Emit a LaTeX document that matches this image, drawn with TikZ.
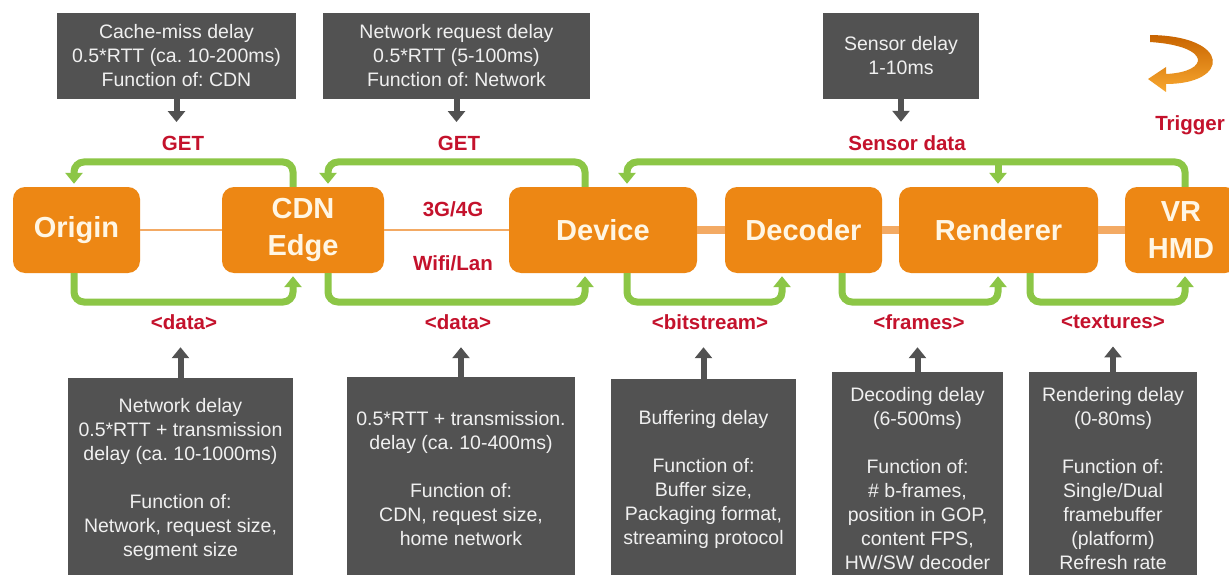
\documentclass[tikz,border=0pt]{standalone}
\usepackage{fontspec}
\setmainfont{Liberation Sans}
\usetikzlibrary{arrows.meta,calc}
\frenchspacing

\definecolor{boxgray}{RGB}{82,82,82}
\definecolor{boxtext}{RGB}{240,240,240}
\definecolor{stageorange}{RGB}{237,135,20}
\definecolor{stagetext}{RGB}{255,246,228}
\definecolor{linkorange}{RGB}{243,170,100}
\definecolor{flowgreen}{RGB}{140,198,70}
\definecolor{labelred}{RGB}{196,18,44}
\definecolor{trigdark}{RGB}{200,100,0}
\definecolor{triglight}{RGB}{248,168,48}

\begin{document}
\begin{tikzpicture}[x=1pt,y=-1pt,
  stage/.style={fill=stageorange, rounded corners=12pt, text=stagetext, align=center,
    inner sep=0pt, minimum height=86pt, font=\fontsize{29}{37}\selectfont\bfseries},
  infobox/.style={fill=boxgray, text=boxtext, align=center, inner sep=0pt,
    font=\fontsize{19.5}{24}\selectfont},
  flowlabel/.style={text=labelred, inner sep=2pt, font=\fontsize{20.5}{24}\selectfont\bfseries},
  flow/.style={draw=flowgreen, line width=7pt, rounded corners=10pt, shorten >=3pt,
    -{Triangle[width=17pt,length=11pt]}},
  cause/.style={draw=boxgray, line width=6pt, -{Triangle[width=17pt,length=11pt]}},
  thinlink/.style={draw=linkorange, line width=1.6pt},
  thicklink/.style={draw=linkorange, line width=8pt},
]
\useasboundingbox (0,0) rectangle (1229,575);
\clip (0,0) rectangle (1229,575);
\fill[white] (0,0) rectangle (1229,575);

% pipeline stages
\node[stage, minimum width=127pt] (origin)   at (76.5,230)  {Origin};
\node[stage, minimum width=162pt] (cdn)      at (303,230)   {CDN\\Edge};
\node[stage, minimum width=188pt] (device)   at (603,230)   {Device};
\node[stage, minimum width=157pt] (decoder)  at (803.5,230) {Decoder};
\node[stage, minimum width=199pt] (renderer) at (998.5,230) {Renderer};
\node[stage, minimum width=112pt] (hmd)      at (1181,230)  {VR\\HMD};

% links between stages
\draw[thinlink]  (origin) -- (cdn);
\draw[thinlink]  (cdn) -- (device);
\draw[thicklink] (device) -- (decoder);
\draw[thicklink] (decoder) -- (renderer);
\draw[thicklink] (renderer) -- (hmd);

% delay descriptions above
\node[infobox, minimum width=239pt, minimum height=86pt] (cachemiss) at (176.5,56)
  {Cache-miss delay\\0.5*RTT (ca. 10-200ms)\\Function of: CDN};
\node[infobox, minimum width=267pt, minimum height=86pt] (netreq) at (456.5,56)
  {Network request delay\\0.5*RTT (5-100ms)\\Function of: Network};
\node[infobox, minimum width=156pt, minimum height=86pt] (sensordelay) at (901,56)
  {Sensor delay\\1-10ms};

% delay descriptions below
\node[infobox, minimum width=225pt, minimum height=202pt] (netdelay) at (180.5,479)
  {Network delay\\0.5*RTT + transmission\\delay (ca. 10-1000ms)\\[24pt]Function of:\\Network, request size,\\segment size};
\node[infobox, minimum width=228pt, minimum height=204pt] (transdelay) at (461,479)
  {0.5*RTT + transmission.\\delay (ca. 10-400ms)\\[24pt]Function of:\\CDN, request size,\\home network};
\node[infobox, minimum width=185pt, minimum height=200pt] (bufdelay) at (703.5,479)
  {Buffering delay\\[24pt]Function of:\\Buffer size,\\Packaging format,\\streaming protocol};
\node[infobox, minimum width=171pt, minimum height=214pt] (decdelay) at (917.5,479)
  {Decoding delay\\(6-500ms)\\[24pt]Function of:\\\# b-frames,\\position in GOP,\\content FPS,\\HW/SW decoder};
\node[infobox, minimum width=168pt, minimum height=214pt] (rendelay) at (1113,479)
  {Rendering delay\\(0-80ms)\\[24pt]Function of:\\Single/Dual\\framebuffer\\(platform)\\Refresh rate};

% message labels
\node[flowlabel] (get1)       at (183,143)  {GET};
\node[flowlabel] (get2)       at (459,143)  {GET};
\node[flowlabel] (sensordata) at (907,143)  {Sensor data};
\node[flowlabel] (triggerlbl) at (1190,125) {Trigger};
\node[flowlabel] (mobile)     at (453,209)  {3G/4G};
\node[flowlabel] (wifi)       at (453,263)  {Wifi/Lan};
\node[flowlabel] (data1)      at (184,322)  {<data>};
\node[flowlabel] (data2)      at (458,322)  {<data>};
\node[flowlabel] (bits)       at (710,322)  {<bitstream>};
\node[flowlabel] (frames)     at (919,322)  {<frames>};
\node[flowlabel] (textures)   at (1113,322) {<textures>};

% lanes of the green flows
\coordinate (toplane) at (0,162);
\coordinate (botlane) at (0,302);
\coordinate (xa) at (74,0);
\coordinate (xb) at (293,0);
\coordinate (xc) at (328,0);
\coordinate (xd) at (585,0);
\coordinate (xe) at (627,0);
\coordinate (xf) at (782,0);
\coordinate (xg) at (842,0);
\coordinate (xh) at (998,0);
\coordinate (xi) at (1030,0);
\coordinate (xj) at (1185,0);

% requests (top)
\draw[flow] (cdn.north -| xb) -- (xb |- toplane) -- (xa |- toplane) -- (origin.north -| xa);
\draw[flow] (device.north -| xd) -- (xd |- toplane) -- (xc |- toplane) -- (cdn.north -| xc);
\draw[flow] (hmd.north -| xj) -- (xj |- toplane) -- (xe |- toplane) -- (device.north -| xe);
\draw[flow] (xh |- toplane) -- (renderer.north -| xh);

% responses (bottom)
\draw[flow] (origin.south -| xa) -- (xa |- botlane) -- (xb |- botlane) -- (cdn.south -| xb);
\draw[flow] (cdn.south -| xc) -- (xc |- botlane) -- (xd |- botlane) -- (device.south -| xd);
\draw[flow] (device.south -| xe) -- (xe |- botlane) -- (xf |- botlane) -- (decoder.south -| xf);
\draw[flow] (decoder.south -| xg) -- (xg |- botlane) -- (xh |- botlane) -- (renderer.south -| xh);
\draw[flow] (renderer.south -| xi) -- (xi |- botlane) -- (xj |- botlane) -- (hmd.south -| xj);

% delay pointers
\draw[cause, shorten >=11.5pt] (cachemiss.south) -- (cachemiss.south |- get1.north);
\draw[cause, shorten >=11.5pt] (netreq.south) -- (netreq.south |- get2.north);
\draw[cause, shorten >=11.5pt] (sensordelay.south) -- (sensordelay.south |- sensordata.north);
\draw[cause, shorten >=15.5pt] (netdelay.north) -- (netdelay.north |- data1.south);
\draw[cause, shorten >=15.5pt] (transdelay.north) -- (transdelay.north |- data2.south);
\draw[cause, shorten >=15.5pt] (bufdelay.north) -- (bufdelay.north |- bits.south);
\draw[cause, shorten >=15.5pt] (decdelay.north) -- (decdelay.north |- frames.south);
\draw[cause, shorten >=15.5pt] (rendelay.north) -- (rendelay.north |- textures.south);

% trigger symbol
\shade[top color=trigdark, bottom color=triglight]
  (1150,35) .. controls (1232,36) and (1230,84) .. (1166,84)
  -- (1166,92) -- (1148,79) -- (1166,67) -- (1166,74)
  .. controls (1210,72) and (1212,46) .. (1150,42) -- cycle;
\end{tikzpicture}
\end{document}
